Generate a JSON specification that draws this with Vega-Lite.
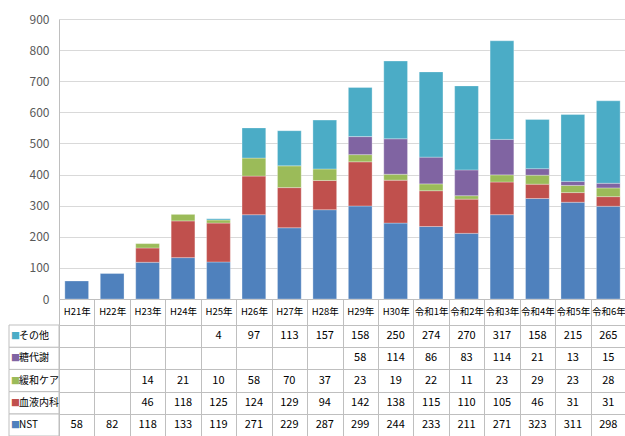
{
  "$schema": "https://vega.github.io/schema/vega-lite/v6.json",
  "padding": {"left": 8, "top": 13, "right": 0, "bottom": 0},
  "background": "white",
  "bounds": "flush",
  "columns": 2,
  "spacing": {"row": 26, "column": 0},
  "data": {"values": [
    {"category": "H21年", "series": "NST", "value": 58},
    {"category": "H22年", "series": "NST", "value": 82},
    {"category": "H23年", "series": "NST", "value": 118},
    {"category": "H24年", "series": "NST", "value": 133},
    {"category": "H25年", "series": "NST", "value": 119},
    {"category": "H26年", "series": "NST", "value": 271},
    {"category": "H27年", "series": "NST", "value": 229},
    {"category": "H28年", "series": "NST", "value": 287},
    {"category": "H29年", "series": "NST", "value": 299},
    {"category": "H30年", "series": "NST", "value": 244},
    {"category": "令和1年", "series": "NST", "value": 233},
    {"category": "令和2年", "series": "NST", "value": 211},
    {"category": "令和3年", "series": "NST", "value": 271},
    {"category": "令和4年", "series": "NST", "value": 323},
    {"category": "令和5年", "series": "NST", "value": 311},
    {"category": "令和6年", "series": "NST", "value": 298},
    {"category": "H23年", "series": "血液内科", "value": 46},
    {"category": "H24年", "series": "血液内科", "value": 118},
    {"category": "H25年", "series": "血液内科", "value": 125},
    {"category": "H26年", "series": "血液内科", "value": 124},
    {"category": "H27年", "series": "血液内科", "value": 129},
    {"category": "H28年", "series": "血液内科", "value": 94},
    {"category": "H29年", "series": "血液内科", "value": 142},
    {"category": "H30年", "series": "血液内科", "value": 138},
    {"category": "令和1年", "series": "血液内科", "value": 115},
    {"category": "令和2年", "series": "血液内科", "value": 110},
    {"category": "令和3年", "series": "血液内科", "value": 105},
    {"category": "令和4年", "series": "血液内科", "value": 46},
    {"category": "令和5年", "series": "血液内科", "value": 31},
    {"category": "令和6年", "series": "血液内科", "value": 31},
    {"category": "H23年", "series": "緩和ケア", "value": 14},
    {"category": "H24年", "series": "緩和ケア", "value": 21},
    {"category": "H25年", "series": "緩和ケア", "value": 10},
    {"category": "H26年", "series": "緩和ケア", "value": 58},
    {"category": "H27年", "series": "緩和ケア", "value": 70},
    {"category": "H28年", "series": "緩和ケア", "value": 37},
    {"category": "H29年", "series": "緩和ケア", "value": 23},
    {"category": "H30年", "series": "緩和ケア", "value": 19},
    {"category": "令和1年", "series": "緩和ケア", "value": 22},
    {"category": "令和2年", "series": "緩和ケア", "value": 11},
    {"category": "令和3年", "series": "緩和ケア", "value": 23},
    {"category": "令和4年", "series": "緩和ケア", "value": 29},
    {"category": "令和5年", "series": "緩和ケア", "value": 23},
    {"category": "令和6年", "series": "緩和ケア", "value": 28},
    {"category": "H29年", "series": "糖代謝", "value": 58},
    {"category": "H30年", "series": "糖代謝", "value": 114},
    {"category": "令和1年", "series": "糖代謝", "value": 86},
    {"category": "令和2年", "series": "糖代謝", "value": 83},
    {"category": "令和3年", "series": "糖代謝", "value": 114},
    {"category": "令和4年", "series": "糖代謝", "value": 21},
    {"category": "令和5年", "series": "糖代謝", "value": 13},
    {"category": "令和6年", "series": "糖代謝", "value": 15},
    {"category": "H25年", "series": "その他", "value": 4},
    {"category": "H26年", "series": "その他", "value": 97},
    {"category": "H27年", "series": "その他", "value": 113},
    {"category": "H28年", "series": "その他", "value": 157},
    {"category": "H29年", "series": "その他", "value": 158},
    {"category": "H30年", "series": "その他", "value": 250},
    {"category": "令和1年", "series": "その他", "value": 274},
    {"category": "令和2年", "series": "その他", "value": 270},
    {"category": "令和3年", "series": "その他", "value": 317},
    {"category": "令和4年", "series": "その他", "value": 158},
    {"category": "令和5年", "series": "その他", "value": 215},
    {"category": "令和6年", "series": "その他", "value": 265}
  ]},
  "concat": [
    {
      "width": 50,
      "height": 280,
      "mark": {"type": "rule", "opacity": 0},
      "encoding": {}
    },
    {
      "width": 567,
      "height": 280,
      "transform": [
        {"calculate": "indexof(['NST', '血液内科', '緩和ケア', '糖代謝', 'その他'], datum.series)", "as": "stackRank"}
      ],
      "mark": {"type": "bar", "width": {"band": 0.67}, "stroke": "white", "strokeWidth": 0.6, "strokeOpacity": 0.5},
      "encoding": {
        "x": {
          "field": "category", "type": "nominal",
          "sort": ["H21年","H22年","H23年","H24年","H25年","H26年","H27年","H28年","H29年","H30年","令和1年","令和2年","令和3年","令和4年","令和5年","令和6年"],
          "scale": {"paddingInner": 0, "paddingOuter": 0},
          "axis": {
            "title": null, "labelAngle": 0, "tickBand": "extent", "ticks": true, "tickSize": 26,
            "tickColor": "#bfbfbf", "domainColor": "#bfbfbf", "labelPadding": -19,
            "labelFontSize": 9.5, "labelColor": "#000000", "grid": false
          }
        },
        "y": {
          "field": "value", "type": "quantitative", "stack": "zero",
          "scale": {"domain": [0, 900], "nice": false},
          "axis": {
            "title": null, "values": [0,100,200,300,400,500,600,700,800,900],
            "grid": true, "gridColor": "#d9d9d9", "ticks": false, "domainColor": "#bfbfbf",
            "labelColor": "#595959", "labelFontSize": 12, "labelPadding": 10
          }
        },
        "color": {
          "field": "series", "type": "nominal",
          "scale": {"domain": ["NST", "血液内科", "緩和ケア", "糖代謝", "その他"], "range": ["#4f81bd", "#c0504d", "#9bbb59", "#8064a2", "#4bacc6"]},
          "legend": null
        },
        "order": {"field": "stackRank", "type": "quantitative", "sort": "ascending"}
      }
    },
    {
      "width": 50,
      "height": 111,
      "transform": [{"filter": "datum.category === '令和6年'"}],
      "layer": [
        {
          "mark": {"type": "rect", "fill": "white", "stroke": "#bfbfbf", "strokeWidth": 1},
          "encoding": {
            "y": {"field": "series", "type": "nominal", "sort": ["その他", "糖代謝", "緩和ケア", "血液内科", "NST"], "axis": null}
          }
        },
        {
          "mark": {"type": "text", "text": "■", "align": "left", "dx": -23, "fontSize": 9},
          "encoding": {
            "y": {"field": "series", "type": "nominal", "sort": ["その他", "糖代謝", "緩和ケア", "血液内科", "NST"], "axis": null},
            "color": {"field": "series", "type": "nominal", "legend": null}
          }
        },
        {
          "mark": {"type": "text", "align": "left", "dx": -15, "fontSize": 10, "color": "#000000"},
          "encoding": {
            "y": {"field": "series", "type": "nominal", "sort": ["その他", "糖代謝", "緩和ケア", "血液内科", "NST"], "axis": null},
            "text": {"field": "series"}
          }
        }
      ]
    },
    {
      "width": 567,
      "height": 111,
      "mark": {"type": "text", "fontSize": 11, "color": "#000000"},
      "encoding": {
        "x": {
          "field": "category", "type": "nominal",
          "sort": ["H21年","H22年","H23年","H24年","H25年","H26年","H27年","H28年","H29年","H30年","令和1年","令和2年","令和3年","令和4年","令和5年","令和6年"],
          "scale": {"domain": ["H21年","H22年","H23年","H24年","H25年","H26年","H27年","H28年","H29年","H30年","令和1年","令和2年","令和3年","令和4年","令和5年","令和6年"], "paddingInner": 0, "paddingOuter": 0},
          "axis": {"title": null, "labels": false, "ticks": false, "domain": false, "grid": true, "tickBand": "extent", "gridColor": "#bfbfbf", "gridOpacity": 1}
        },
        "y": {
          "field": "series", "type": "nominal",
          "scale": {"domain": ["その他", "糖代謝", "緩和ケア", "血液内科", "NST"], "paddingInner": 0, "paddingOuter": 0},
          "axis": {"title": null, "labels": false, "ticks": false, "domain": false, "grid": true, "tickBand": "extent", "gridColor": "#bfbfbf", "gridOpacity": 1}
        },
        "text": {"field": "value", "type": "quantitative"}
      }
    }
  ],
  "resolve": {"scale": {"color": "shared"}},
  "config": {
    "view": {"stroke": null},
    "font": "Liberation Sans Narrow, Noto Sans CJK JP",
    "axis": {"labelFont": "Liberation Sans Narrow, Noto Sans CJK JP"},
    "text": {"font": "Liberation Sans Narrow, Noto Sans CJK JP"}
  }
}
